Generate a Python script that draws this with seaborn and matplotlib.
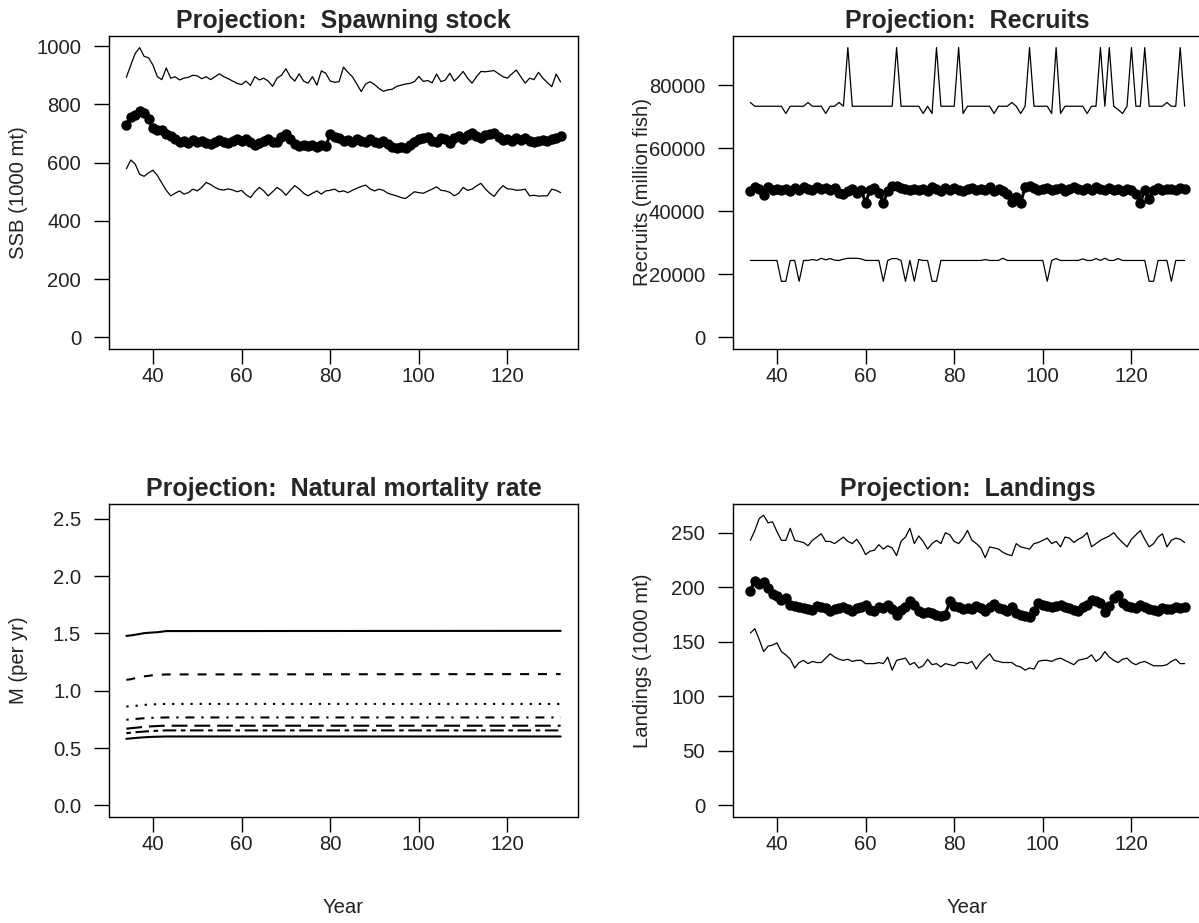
import matplotlib
matplotlib.use("Agg")
import pandas as pd
import matplotlib.pyplot as plt
import seaborn as sns

# projection years
years = list(range(34, 133))

# spawning stock biomass (1000 mt): upper bound, median, lower bound
ssb_upper = [893, 935, 975, 995, 965, 960, 935, 895, 885, 925,
             890, 895, 884, 890, 893, 900, 898, 888, 895, 885,
             895, 905, 895, 888, 880, 872, 868, 880, 865, 895,
             884, 890, 880, 862, 890, 900, 922, 895, 880, 905,
             880, 873, 895, 866, 915, 907, 880, 876, 878, 928,
             910, 895, 870, 844, 870, 878, 868, 855, 845, 850,
             852, 862, 866, 870, 872, 878, 896, 879, 882, 874,
             904, 878, 884, 907, 880, 895, 913, 890, 873, 895,
             913, 912, 914, 916, 905, 895, 890, 905, 918, 895,
             873, 890, 885, 910, 890, 875, 861, 904, 877]
ssb_median = [730, 755, 765, 776, 770, 750, 720, 712, 713, 700,
              692, 682, 672, 675, 668, 677, 672, 675, 668, 664,
              672, 678, 672, 668, 675, 682, 676, 680, 670, 660,
              668, 675, 680, 670, 672, 688, 697, 680, 665, 656,
              660, 658, 662, 655, 660, 657, 697, 688, 683, 675,
              678, 672, 682, 676, 670, 680, 672, 668, 675, 665,
              652, 650, 652, 650, 660, 672, 680, 683, 688, 676,
              672, 685, 680, 668, 685, 690, 680, 695, 702, 690,
              685, 695, 700, 702, 688, 678, 682, 675, 685, 678,
              683, 676, 672, 675, 678, 676, 680, 685, 690]
ssb_lower = [579, 609, 595, 560, 553, 565, 574, 556, 530, 505,
             486, 495, 503, 492, 497, 509, 503, 515, 532, 525,
             515, 508, 506, 510, 506, 500, 505, 490, 480, 500,
             515, 503, 486, 500, 515, 505, 488, 505, 521, 510,
             495, 486, 495, 503, 492, 503, 505, 509, 500, 503,
             497, 505, 512, 518, 523, 510, 503, 509, 505, 495,
             490, 486, 480, 477, 488, 500, 497, 495, 502, 509,
             517, 505, 503, 498, 486, 495, 515, 505, 509, 520,
             529, 510, 495, 484, 505, 521, 510, 509, 505, 506,
             509, 486, 488, 485, 486, 486, 509, 505, 497]

# recruits (million fish)
rec_upper = [74500, 73300, 73300, 73300, 73300, 73300, 73300, 73300, 71000, 73300,
             73300, 73300, 73300, 74500, 73300, 73300, 73300, 71000, 73300, 73300,
             74500, 73300, 91900, 73300, 73300, 73300, 73300, 73300, 73300, 73300,
             73300, 73300, 73300, 91900, 73300, 73300, 73300, 73300, 73300, 71000,
             73300, 71000, 91900, 73300, 73300, 73300, 73300, 91900, 71000, 73300,
             73300, 73300, 73300, 73300, 73300, 71000, 73300, 73300, 73300, 74500,
             73300, 71000, 73300, 91900, 73300, 73300, 73300, 73300, 71000, 91900,
             71000, 73300, 73300, 73300, 73300, 73300, 71000, 73300, 73300, 91900,
             73300, 91900, 73300, 72200, 71000, 73300, 91900, 73300, 73300, 91900,
             73300, 73300, 73300, 73300, 74500, 73300, 73300, 91900, 73300]
rec_median = [46300, 47800, 47000, 45300, 47600, 46800, 47200, 46600, 47000, 46500,
              47300, 46700, 47600, 47200, 46800, 47800, 47000, 47300, 46600, 47500,
              45800, 45600, 46500, 47200, 45800, 46900, 42600, 46800, 47400, 45900,
              42700, 46400, 47900, 48100, 47300, 47000, 46600, 47200, 46800, 47100,
              46500, 47600, 47000, 46400, 47300, 46900, 47400, 46800, 46500, 47100,
              47300, 46600, 47200, 46900, 47600, 46400, 47000, 46500, 45600, 42800,
              44500, 42700, 47600, 48000, 47300, 46800, 47200, 47500, 46600, 47000,
              47300, 46400, 47100, 47600, 47000, 46700, 47400, 46800, 47800, 47100,
              46600, 47300, 46900, 47200, 46500, 47100, 46700, 45600, 42700, 46600,
              43800, 46900, 47300, 46800, 47000, 47200, 46900, 47300, 47100]
rec_lower = [24400, 24400, 24400, 24400, 24400, 24400, 24400, 17800, 17800, 24400,
             24400, 17800, 24400, 24400, 24700, 24400, 25100, 24600, 25000, 24500,
             24400, 24800, 25100, 25100, 25100, 24900, 24400, 24400, 24400, 24400,
             17800, 24400, 25000, 25000, 24400, 17800, 24400, 17800, 24700, 24400,
             24400, 17800, 17800, 24400, 24400, 24400, 24400, 24400, 24400, 24400,
             24400, 24400, 24400, 24700, 24400, 24400, 24400, 25100, 24400, 24400,
             24400, 24400, 24400, 24400, 24400, 24400, 24400, 17800, 24400, 25000,
             24400, 24400, 24400, 24400, 24400, 24900, 24400, 24400, 25000, 24400,
             25100, 24400, 24400, 25000, 24400, 24400, 24400, 24400, 24400, 24400,
             17800, 17800, 24400, 24400, 24400, 17800, 24400, 24400, 24400]

# landings (1000 mt)
land_upper = [243, 252, 263, 266, 259, 260, 251, 243, 243, 254,
              243, 242, 241, 238, 243, 246, 249, 242, 242, 240,
              243, 246, 242, 240, 244, 238, 230, 233, 234, 239,
              235, 238, 236, 229, 242, 246, 254, 240, 247, 242,
              235, 240, 243, 240, 250, 248, 242, 240, 245, 252,
              243, 240, 236, 227, 237, 236, 235, 232, 230, 229,
              240, 237, 236, 235, 240, 241, 243, 245, 240, 242,
              237, 246, 245, 241, 244, 246, 250, 237, 240, 243,
              245, 247, 250, 245, 241, 237, 244, 248, 252, 244,
              237, 240, 246, 249, 237, 243, 245, 244, 241]
land_median = [197, 206, 203, 205, 199, 194, 192, 188, 190, 184,
               183, 182, 181, 180, 179, 183, 182, 181, 178, 180,
               181, 182, 180, 178, 181, 182, 184, 179, 178, 182,
               181, 184, 180, 175, 179, 182, 187, 184, 178, 176,
               177, 176, 175, 174, 175, 187, 183, 182, 180, 181,
               180, 183, 181, 178, 182, 185, 181, 180, 178, 182,
               176, 175, 174, 173, 178, 186, 184, 183, 182, 183,
               184, 182, 181, 179, 178, 182, 184, 188, 187, 186,
               177, 183, 190, 193, 186, 183, 182, 181, 184, 182,
               180, 179, 178, 181, 180, 180, 182, 181, 182]
land_lower = [158, 162, 152, 141, 146, 147, 149, 141, 138, 134,
              126, 131, 133, 130, 132, 131, 131, 135, 139, 136,
              134, 133, 134, 132, 133, 133, 130, 130, 130, 131,
              130, 136, 124, 133, 134, 135, 129, 131, 126, 128,
              134, 129, 130, 127, 130, 129, 128, 131, 131, 130,
              132, 125, 131, 135, 139, 133, 132, 131, 131, 131,
              128, 127, 124, 126, 125, 132, 133, 133, 132, 134,
              135, 133, 131, 129, 133, 134, 135, 138, 132, 135,
              141, 136, 133, 131, 134, 135, 131, 129, 131, 132,
              130, 128, 128, 128, 129, 132, 134, 130, 130]

# natural mortality by age (flat after the first decade)
m_years = [34, 35, 36, 37, 38, 39, 40, 41, 42, 43, 132]
m_age1 = [1.478, 1.482, 1.488, 1.495, 1.502, 1.505, 1.508, 1.510, 1.515, 1.520, 1.522]
m_age2 = [1.095, 1.100, 1.110, 1.118, 1.125, 1.130, 1.135, 1.138, 1.140, 1.142, 1.145]
m_age3 = [0.862, 0.865, 0.868, 0.872, 0.876, 0.879, 0.881, 0.883, 0.884, 0.885, 0.885]
m_age4 = [0.747, 0.750, 0.754, 0.757, 0.760, 0.762, 0.764, 0.765, 0.766, 0.767, 0.767]
m_age5 = [0.669, 0.673, 0.677, 0.681, 0.685, 0.688, 0.690, 0.692, 0.694, 0.695, 0.695]
m_age6 = [0.630, 0.634, 0.638, 0.641, 0.644, 0.647, 0.649, 0.651, 0.653, 0.654, 0.654]
m_age7 = [0.581, 0.584, 0.588, 0.591, 0.594, 0.596, 0.598, 0.599, 0.600, 0.601, 0.601]

sns.set_theme(style="ticks")
plt.rcParams['font.family'] = ['Liberation Sans', 'DejaVu Sans']

fig = plt.figure(figsize=(11.99, 9.23), dpi=100)
W, H = 1199, 923


def make_ax(left, top, right, bottom):
    return fig.add_axes([left / W, 1 - bottom / H, (right - left) / W, (bottom - top) / H])


ax_ssb = make_ax(109, 36, 578, 349)
ax_rec = make_ax(733, 36, 1202, 349)
ax_m = make_ax(109, 504, 578, 817)
ax_land = make_ax(733, 504, 1202, 817)

tick_size = 14.6


def style_ax(ax, title, ylabel, yticks, ylabels, ylim, xlab):
    ax.set_xlim(30.08, 135.92)
    ax.set_ylim(*ylim)
    ax.set_xticks([40, 60, 80, 100, 120])
    ax.set_xticklabels(["40", "60", "80", "100", "120"])
    ax.set_yticks(yticks)
    ax.set_yticklabels(ylabels)
    ax.tick_params(axis='both', direction='out', length=11, width=1,
                   labelsize=tick_size, colors='black', labelcolor='#222222')
    ax.tick_params(axis='y', pad=9)
    ax.tick_params(axis='x', pad=2)
    for sp in ax.spines.values():
        sp.set_visible(True)
        sp.set_color('black')
        sp.set_linewidth(1)
    ax.set_title(title, fontsize=18, fontweight='bold', pad=6)
    ax.set_ylabel(ylabel, fontsize=tick_size, color='#222222')
    ax.yaxis.set_label_coords(-0.172, 0.5)
    if xlab:
        ax.set_xlabel("Year", fontsize=tick_size, color='#222222')
        ax.xaxis.set_label_coords(0.5, -0.258)
    else:
        ax.set_xlabel("")


def band_panel(ax, upper, median, lower):
    df = pd.DataFrame({"Year": years, "upper": upper, "median": median, "lower": lower})
    sns.lineplot(data=df, x="Year", y="upper", ax=ax, color="black", linewidth=0.9)
    sns.lineplot(data=df, x="Year", y="lower", ax=ax, color="black", linewidth=0.9)
    sns.lineplot(data=df, x="Year", y="median", ax=ax, color="black", linewidth=2.2,
                 marker="o", markersize=7.5, markeredgewidth=0, markerfacecolor="black")


band_panel(ax_ssb, ssb_upper, ssb_median, ssb_lower)
style_ax(ax_ssb, "Projection:  Spawning stock", "SSB (1000 mt)",
         [0, 200, 400, 600, 800, 1000], ["0", "200", "400", "600", "800", "1000"],
         (-39.8, 1034.8), False)

band_panel(ax_rec, rec_upper, rec_median, rec_lower)
style_ax(ax_rec, "Projection:  Recruits", "Recruits (million fish)",
         [0, 20000, 40000, 60000, 80000], ["0", "20000", "40000", "60000", "80000"],
         (-3676, 95576), False)

band_panel(ax_land, land_upper, land_median, land_lower)
style_ax(ax_land, "Projection:  Landings", "Landings (1000 mt)",
         [0, 50, 100, 150, 200, 250], ["0", "50", "100", "150", "200", "250"],
         (-10.6, 276.3), True)

# natural mortality, one line per age with R-like line types
m_lines = [m_age1, m_age2, m_age3, m_age4, m_age5, m_age6, m_age7]
m_styles = ['-', (0, (4.3, 4.3)), (0, (1.1, 3.3)), (0, (1.1, 3.3, 4.3, 3.3)),
            (0, (7.6, 3.3)), (0, (2.2, 2.2, 6.5, 2.2)), '-']
for vals, ls in zip(m_lines, m_styles):
    mdf = pd.DataFrame({"Year": m_years, "M": vals})
    sns.lineplot(data=mdf, x="Year", y="M", ax=ax_m, color="black",
                 linewidth=1.5, linestyle=ls)
style_ax(ax_m, "Projection:  Natural mortality rate", "M (per yr)",
         [0, 0.5, 1.0, 1.5, 2.0, 2.5], ["0.0", "0.5", "1.0", "1.5", "2.0", "2.5"],
         (-0.101, 2.628), True)

fig.savefig("out.png", dpi=100)
